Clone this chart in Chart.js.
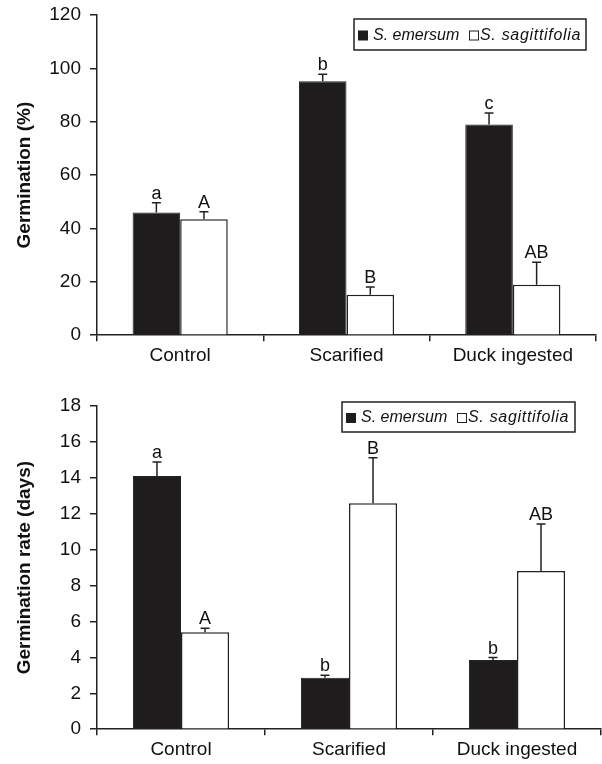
<!DOCTYPE html>
<html lang="en">
<head>
    <meta charset="UTF-8">
    <title>germination</title>
    <script src="https://cdn.jsdelivr.net/npm/chart.js@4"></script>
    <style>
        body { margin: 0; background: #fff; }
        .panel { position: absolute; left: 0; width: 602px; }
        #top { top: 0; height: 380px; }
        #bottom { top: 380px; height: 384px; }
    </style>
</head>
<body>
    <div class="panel" id="top"><canvas id="germ"></canvas></div>
    <div class="panel" id="bottom"><canvas id="rate"></canvas></div>
    <script>
        const categories = ['Control', 'Scarified', 'Duck ingested'];
        const seriesNames = ['S. emersum', 'S. sagittifolia'];

        // germination (%)
        const germEmersum = [46, 95.2, 79];
        const germEmersumErr = [3.6, 2.6, 4.3];
        const germEmersumLetters = ['a', 'b', 'c'];
        const germSagitt = [43.5, 15.2, 18.9];
        const germSagittErr = [2.8, 2.9, 8.4];
        const germSagittLetters = ['A', 'B', 'AB'];

        // germination rate (days)
        const rateEmersum = [14.1, 2.87, 3.86];
        const rateEmersumErr = [0.78, 0.13, 0.13];
        const rateEmersumLetters = ['a', 'b', 'b'];
        const rateSagitt = [5.4, 12.58, 8.81];
        const rateSagittErr = [0.22, 2.54, 2.62];
        const rateSagittLetters = ['A', 'B', 'AB'];

        const FONT = "'Liberation Sans', Arial, sans-serif";
        const INK = '#222';
        Chart.defaults.font.family = FONT;
        Chart.defaults.color = INK;

        // error bars (upper half only), letters, and boxed legend
        const barExtras = {
            id: 'barExtras',
            afterDatasetsDraw(chart, args, opts) {
                const ctx = chart.ctx;
                const y = chart.scales.y;
                ctx.save();
                chart.data.datasets.forEach((ds, i) => {
                    chart.getDatasetMeta(i).data.forEach((bar, j) => {
                        const top = y.getPixelForValue(ds.data[j] + ds.errors[j]);
                        ctx.strokeStyle = INK;
                        ctx.lineWidth = 1.5;
                        ctx.beginPath();
                        ctx.moveTo(bar.x, bar.y);
                        ctx.lineTo(bar.x, top);
                        ctx.moveTo(bar.x - 4.5, top);
                        ctx.lineTo(bar.x + 4.5, top);
                        ctx.stroke();
                        ctx.fillStyle = '#111';
                        ctx.font = '18px ' + FONT;
                        ctx.textAlign = 'center';
                        ctx.textBaseline = 'alphabetic';
                        ctx.fillText(ds.letters[j], bar.x, top - 4);
                    });
                });

                // legend
                ctx.font = 'italic 16px ' + FONT;
                const names = chart.data.datasets.map(d => d.label);
                const x = opts.x, top = opts.y, h = opts.h, width = opts.w;
                ctx.lineWidth = 1.5;
                ctx.strokeStyle = INK;
                ctx.fillStyle = '#fff';
                ctx.fillRect(x, top, width, h);
                ctx.strokeRect(x, top, width, h);
                const cy = top + h / 2 + 1;
                ctx.fillStyle = chart.data.datasets[0].backgroundColor;
                ctx.fillRect(x + 4, cy - 5, 10, 10);
                ctx.fillStyle = '#111';
                ctx.textAlign = 'left';
                ctx.textBaseline = 'middle';
                ctx.fillText(names[0], x + 19, cy);
                ctx.lineWidth = 1;
                ctx.strokeRect(x + 115.5, cy - 4.5, 9, 9);
                ctx.letterSpacing = '0.7px';
                ctx.fillText(names[1], x + 126, cy);
                ctx.restore();
            }
        };

        function makeChart(id, emersum, emErr, emLet, sagitt, saErr, saLet, yTitle, yMax, yStep, pad, legendPos) {
            return new Chart(document.getElementById(id), {
                type: 'bar',
                data: {
                    labels: categories,
                    datasets: [
                        {
                            label: seriesNames[0],
                            data: emersum,
                            errors: emErr,
                            letters: emLet,
                            backgroundColor: '#1e1c1d',
                            borderColor: INK,
                            borderWidth: 1
                        },
                        {
                            label: seriesNames[1],
                            data: sagitt,
                            errors: saErr,
                            letters: saLet,
                            backgroundColor: '#fff',
                            borderColor: INK,
                            borderWidth: 1.5
                        }
                    ]
                },
                options: {
                    responsive: true,
                    maintainAspectRatio: false,
                    animation: false,
                    layout: { padding: pad },
                    categoryPercentage: 0.572,
                    barPercentage: 1,
                    scales: {
                        x: {
                            afterFit: (scale) => { scale.paddingLeft = 0; scale.paddingRight = 0; },
                            grid: { drawOnChartArea: false, drawTicks: true, tickLength: 6, color: INK, lineWidth: 1.5 },
                            border: { color: INK, width: 1.5 },
                            ticks: { font: { size: 19 }, color: '#111', padding: 3 }
                        },
                        y: {
                            min: 0,
                            max: yMax,
                            afterFit: (scale) => {
                                scale.width = 97;
                                scale.paddingTop = 0;
                                scale.paddingBottom = 0;
                            },
                            grid: { drawOnChartArea: false, drawTicks: true, tickLength: 7, color: INK, lineWidth: 1.5 },
                            border: { color: INK, width: 1.5 },
                            ticks: { stepSize: yStep, font: { size: 19 }, color: '#111', padding: 9 },
                            title: {
                                display: true,
                                text: yTitle,
                                font: { size: 19, weight: 'bold' },
                                color: '#111',
                                padding: { top: 13, bottom: 0 }
                            }
                        }
                    },
                    plugins: {
                        legend: { display: false },
                        tooltip: { enabled: false },
                        barExtras: legendPos
                    }
                },
                plugins: [barExtras]
            });
        }

        makeChart('germ', germEmersum, germEmersumErr, germEmersumLetters,
            germSagitt, germSagittErr, germSagittLetters,
            'Germination (%)', 120, 20,
            { top: 15, right: 6, left: 0, bottom: 10 },
            { x: 354, y: 19, w: 232, h: 31 });

        makeChart('rate', rateEmersum, rateEmersumErr, rateEmersumLetters,
            rateSagitt, rateSagittErr, rateSagittLetters,
            'Germination rate (days)', 18, 2,
            { top: 26, right: 1, left: 0, bottom: 0 },
            { x: 342, y: 22, w: 233, h: 30 });
    </script>
</body>
</html>
